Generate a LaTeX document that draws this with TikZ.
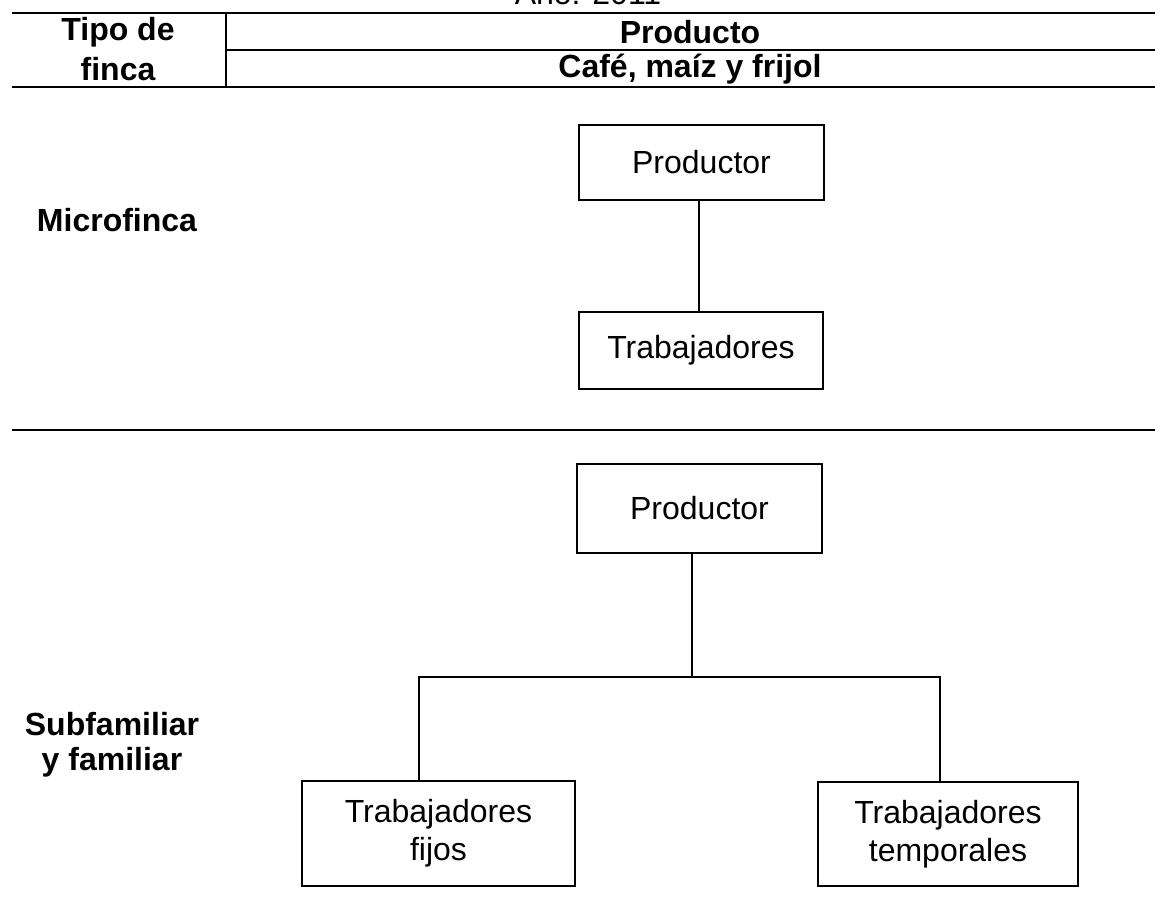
\documentclass[tikz,border=0pt]{standalone}
\usepackage{fontspec}
\setmainfont{Liberation Sans}
\begin{document}
\begin{tikzpicture}[x=0.5pt,y=-0.5pt,
  rule/.style={line width=1.1pt},
  link/.style={line width=1pt},
  orgbox/.style={draw,line width=1pt,align=center,inner sep=0pt,
    font=\fontsize{16}{19}\selectfont},
  headtxt/.style={align=center,inner sep=0pt,font=\fontsize{16}{18.5}\selectfont\bfseries},
  rowtxt/.style={align=center,inner sep=0pt,font=\fontsize{16}{17.5}\selectfont\bfseries}]
\clip (0,0) rectangle (1155,913);
\fill[white] (0,0) rectangle (1155,913);
% cut-off title
\node[anchor=base,inner sep=0pt,font=\fontsize{16}{19}\selectfont] (year) at (588,5) {Año: 2011};
% header rules
\coordinate (hTL) at (12,13);   \coordinate (hTR) at (1155,13);
\coordinate (hML) at (226,50);  \coordinate (hMR) at (1155,50);
\coordinate (hBL) at (12,87);   \coordinate (hBR) at (1155,87);
\coordinate (dT) at (226,13);   \coordinate (dB) at (226,87);
\coordinate (sL) at (12,430);   \coordinate (sR) at (1155,430);
\draw[rule] (hTL) -- (hTR);
\draw[rule] (hML) -- (hMR);
\draw[rule] (hBL) -- (hBR);
\draw[rule] (dT) -- (dB);
\draw[rule] (sL) -- (sR);
% header texts
\node[headtxt] (tipo) at (118,32) {Tipo de};
\node[headtxt] (finca) at (118,69) {finca};
\node[headtxt] (prod) at (690,32) {Producto};
\node[headtxt] (cafe) at (690,69) {Café, maíz y frijol};
% row labels
\node[rowtxt] (micro) at (117,220) {Microfinca};
\node[rowtxt] (subf) at (112,745) {Subfamiliar\\y familiar};
% microfinca chart
\node[orgbox,minimum width=122.5pt,minimum height=37.5pt] (P1) at (701.5,162.5) {Productor};
\node[orgbox,minimum width=122pt,minimum height=38.5pt] (T1) at (701,350.5) {Trabajadores};
\draw[link] (P1.south -| 699,0) -- (T1.north -| 699,0);
% subfamiliar chart
\node[orgbox,minimum width=122.5pt,minimum height=44.5pt] (P2) at (699.5,508.5) {Productor};
\node[orgbox,minimum width=136.5pt,minimum height=52.5pt] (TF) at (438.5,833.5) {Trabajadores\\fijos};
\node[orgbox,minimum width=130pt,minimum height=52pt] (TT) at (948,834) {Trabajadores\\temporales};
\coordinate (barM) at (692,677);
\coordinate (barL) at (419,677);
\coordinate (barR) at (940,677);
\draw[link] (P2.south -| barM) -- (barM);
\draw[link] (TF.north -| barL) -- (barL) -- (barR) -- (TT.north -| barR);
\end{tikzpicture}
\end{document}
